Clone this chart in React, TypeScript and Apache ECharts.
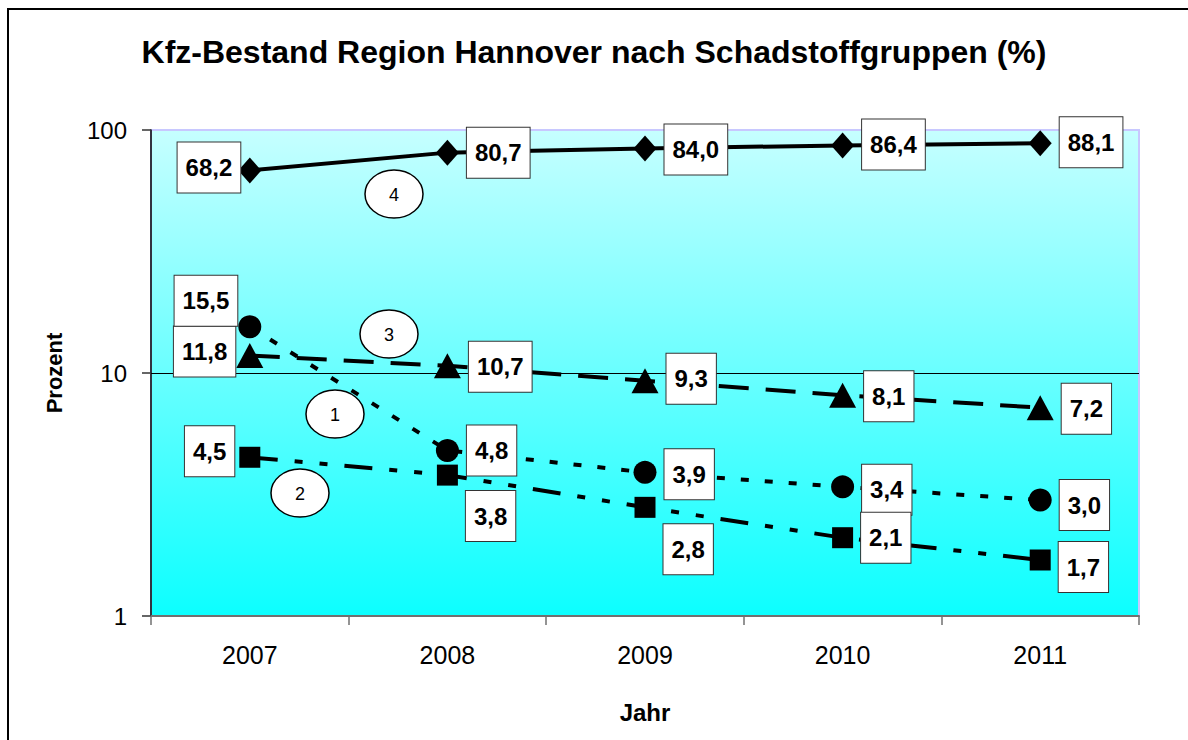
import React, { useEffect, useRef } from "react";
import * as echarts from "echarts";

const titleText = "Kfz-Bestand Region Hannover nach Schadstoffgruppen (%)";
const years = ["2007", "2008", "2009", "2010", "2011"];
const group1 = [15.5, 4.8, 3.9, 3.4, 3.0]; // circles, dotted
const group2 = [4.5, 3.8, 2.8, 2.1, 1.7]; // squares, dash-dot-dot
const group3 = [11.8, 10.7, 9.3, 8.1, 7.2]; // triangles, long dash
const group4 = [68.2, 80.7, 84.0, 86.4, 88.1]; // diamonds, solid
const yMin = 1;
const yMax = 100;

// label placement per point: [position, dx, dy]
const place1: [string, number, number][] = [["left", 7, -26], ["right", 0, 0], ["right", 0, 2], ["right", 0, 3], ["right", 0, 5]];
const place2: [string, number, number][] = [["left", 3, -6], ["right", 0, 41], ["right", 0, 42], ["right", 0, 0], ["right", 0, 7]];
const place3: [string, number, number][] = [["left", 7, -4], ["right", 0, 1], ["right", 0, -2], ["right", 0, 1], ["right", 0, 1]];
const place4: [string, number, number][] = [["left", 10, -3], ["right", 0, 0], ["right", 0, 1], ["right", 0, -1], ["right", 0, -1]];

// circled group numbers (annotation pixels)
const badges = [
  { t: "4", x: 394, y: 194 },
  { t: "3", x: 389, y: 334 },
  { t: "1", x: 335, y: 414 },
  { t: "2", x: 300, y: 493 },
];

const FONT = "'Liberation Sans', Arial, Helvetica, sans-serif";

const fmt = (v: number) => v.toFixed(1).replace(".", ",");

function buildData(vals: number[], place: [string, number, number][]) {
  return vals.map((v, i) => ({
    value: v,
    label: { position: place[i][0], offset: [place[i][1], place[i][2]] },
  }));
}

const baseLabel = {
  show: true,
  formatter: (p: any) => fmt(p.value),
  backgroundColor: "#fff",
  borderColor: "#333",
  borderWidth: 1,
  padding: [14, 8, 12, 8],
  fontSize: 24,
  fontWeight: "bold",
  color: "#000",
  fontFamily: FONT,
  distance: 8,
};

export default function App() {
  const ref = useRef<HTMLDivElement>(null);
  useEffect(() => {
    if (!ref.current) return;
    const chart = echarts.init(ref.current, null, { renderer: "svg" });
    const mkSeries = (
      name: string,
      vals: number[],
      place: [string, number, number][],
      symbol: string,
      symbolSize: any,
      dash: any
    ) => ({
      name,
      type: "line",
      data: buildData(vals, place),
      symbol,
      symbolSize,
      itemStyle: { color: "#000" },
      lineStyle: { color: "#000", width: 4, type: dash, cap: "butt" },
      label: baseLabel,
      z: 3,
    });
    chart.setOption({
      animation: false,
      backgroundColor: "#fff",
      title: {
        text: titleText,
        left: "center",
        top: 31,
        textStyle: { fontSize: 32, fontWeight: "bold", color: "#000", fontFamily: FONT },
      },
      grid: {
        left: 151,
        right: 49,
        top: 130,
        bottom: 124,
        show: true,
        borderColor: "#c8c8ff",
        borderWidth: 2,
        backgroundColor: new echarts.graphic.LinearGradient(0, 0, 0, 1, [
          { offset: 0, color: "#c6ffff" },
          { offset: 1, color: "#0cffff" },
        ]),
      },
      xAxis: {
        type: "category",
        data: years,
        boundaryGap: true,
        name: "Jahr",
        nameLocation: "middle",
        nameGap: 84,
        nameTextStyle: { fontSize: 24, fontWeight: "bold", color: "#000", fontFamily: FONT },
        axisLine: { lineStyle: { color: "#707070", width: 2 } },
        axisTick: { show: true, length: 9, lineStyle: { color: "#707070", width: 1.5 } },
        axisLabel: { fontSize: 25, color: "#000", margin: 26, fontFamily: FONT },
        splitLine: { show: false },
      },
      yAxis: {
        type: "log",
        logBase: 10,
        min: yMin,
        max: yMax,
        name: "Prozent",
        nameLocation: "middle",
        nameRotate: 90,
        nameGap: 86,
        nameTextStyle: { fontSize: 22, fontWeight: "bold", color: "#000", fontFamily: FONT },
        axisLine: { show: true, lineStyle: { color: "#000", width: 1.5 } },
        axisTick: { show: true, length: 9, lineStyle: { color: "#333", width: 1.5 } },
        axisLabel: { fontSize: 24, color: "#000", margin: 24, fontFamily: FONT },
        splitLine: { show: true, lineStyle: { color: ["#707070", "#000", "#c8c8ff"], width: 1 } },
      },
      series: [
        mkSeries("Gruppe 4", group4, place4, "diamond", [23, 26], "solid"),
        mkSeries("Gruppe 3", group3, place3, "triangle", [27, 25], [30, 17]),
        mkSeries("Gruppe 1", group1, place1, "circle", 23, [8, 16]),
        mkSeries("Gruppe 2", group2, place2, "rect", 21, [28, 17, 8, 17, 8, 17]),
      ],
      graphic: [
        {
          type: "rect",
          silent: true,
          shape: { x: 8, y: 9, width: 1400, height: 900 },
          style: { fill: "none", stroke: "#000", lineWidth: 2 },
          z: 10,
        },
        ...badges.flatMap((b) => [
          {
            type: "ellipse",
            shape: { cx: b.x, cy: b.y, rx: 29, ry: 24 },
            style: { fill: "#fff", stroke: "#000", lineWidth: 1.5 },
            z: 20,
          },
          {
            type: "text",
            x: b.x,
            y: b.y + 1,
            style: {
              text: b.t,
              align: "center",
              verticalAlign: "middle",
              fontSize: 18,
              fill: "#000",
              fontFamily: FONT,
            },
            z: 21,
          },
        ]),
      ],
    });
    return () => chart.dispose();
  }, []);
  return (
    <div
      ref={ref}
      style={{ position: "absolute", left: 0, top: 0, width: 1188, height: 740, background: "#fff" }}
    />
  );
}
